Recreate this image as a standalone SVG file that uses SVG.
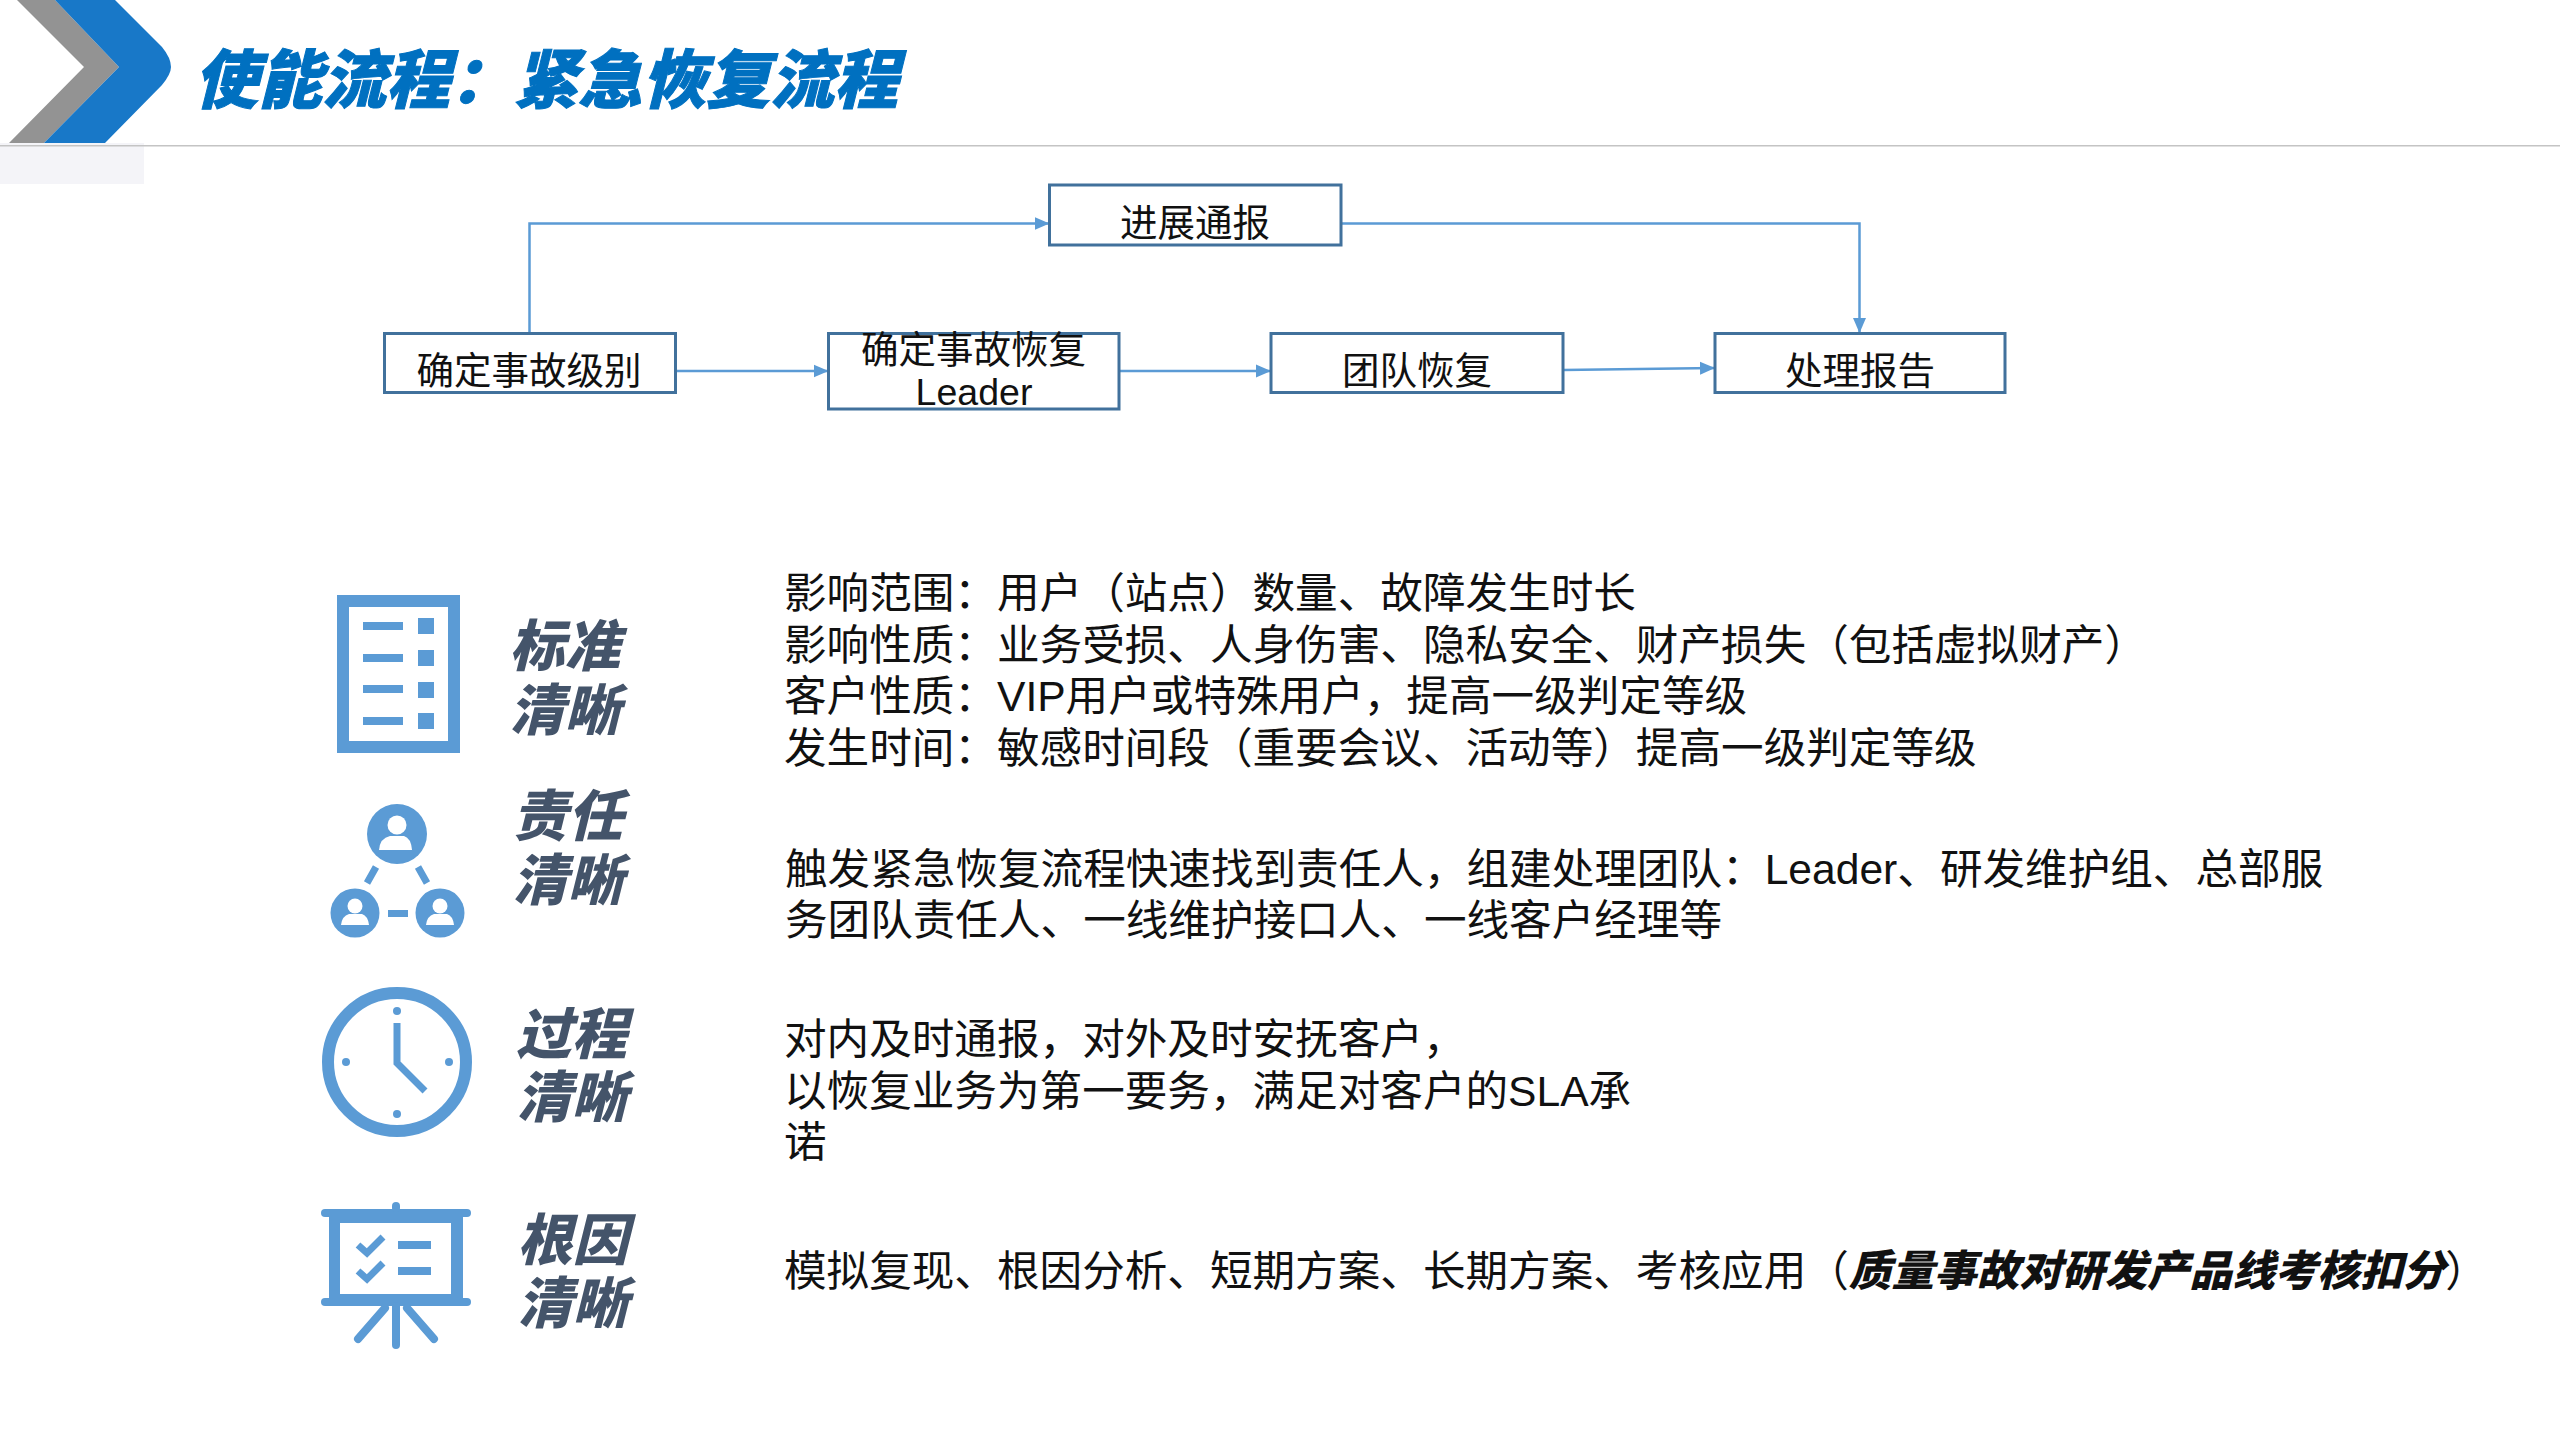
<svg xmlns="http://www.w3.org/2000/svg" width="2560" height="1440" viewBox="0 0 2560 1440">
<style>
text{font-family:"Liberation Sans","Noto Sans CJK SC",sans-serif;fill:#111}
.t{font-size:64px;font-weight:900;font-style:italic;fill:#0070c0;font-family:"Noto Sans CJK SC",sans-serif;stroke:#0070c0;stroke-width:1}
.n{font-size:37.500px;text-anchor:middle}
.b{fill:#fff;stroke:#41719c;stroke-width:3}
.c{fill:none;stroke:#5b9bd5;stroke-width:2.5}
.l{font-size:55.500px;font-weight:900;font-style:italic;fill:#44546a;font-family:"Noto Sans CJK SC",sans-serif}
.p{font-size:42.6px}
.i{fill:#5b9bd5}
.s{fill:none;stroke:#5b9bd5}
</style>
<defs><marker id="a" markerUnits="userSpaceOnUse" markerWidth="16" markerHeight="16" refX="15" refY="8" orient="auto"><path d="M0 1.500L15 8L0 14.500Z" fill="#5b9bd5"/></marker></defs>
<g id="header">
<path d="M17 0H55L119 67L44 143H9L84 67Z" fill="#939393"/>
<path d="M55 0H115L162 47Q171 58 171 67Q171 74 162 85L105 143H44L119 67Z" fill="#1878c8"/>
<rect x="0" y="143" width="144" height="41" fill="#f4f4f8"/>
<rect x="0" y="145" width="2560" height="1.500" fill="#c4c4c4"/>
<text class="t" x="194" y="103">使能流程&#xFF1A;紧急恢复流程</text>
</g>
<g id="connectors">
<path class="c" d="M529.500 333V223.500H1049.500" marker-end="url(#a)"/>
<path class="c" d="M1341 223.500H1859.500V333" marker-end="url(#a)"/>
<path class="c" d="M675 371H828.500" marker-end="url(#a)"/>
<path class="c" d="M1119 371H1271" marker-end="url(#a)"/>
<path class="c" d="M1563 370L1715 368" marker-end="url(#a)"/>
</g>
<g id="node-progress"><rect class="b" x="1049.500" y="185" width="291.500" height="60"/><text class="n" x="1195" y="236">进展通报</text></g>
<g id="node-level"><rect class="b" x="384.500" y="333.500" width="291" height="59"/><text class="n" x="529" y="384">确定事故级别</text></g>
<g id="node-leader"><rect class="b" x="828.500" y="333.500" width="290.500" height="75.500"/><text class="n" x="973.500" y="363">确定事故恢复<tspan x="974" dy="42">Leader</tspan></text></g>
<g id="node-team"><rect class="b" x="1271" y="333.500" width="292" height="59"/><text class="n" x="1417" y="384">团队恢复</text></g>
<g id="node-report"><rect class="b" x="1715" y="333.500" width="290" height="59"/><text class="n" x="1860" y="384">处理报告</text></g>
<g id="row-standard">
<path class="i" fill-rule="evenodd" d="M337 595H460V753H337ZM349 607V741H448V607Z"/>
<path class="i" d="M363 622h40v8h-40zM363 654h40v8h-40zM363 685h40v8h-40zM363 717h40v8h-40zM418 618h16v16h-16zM418 650h16v16h-16zM418 682h16v16h-16zM418 713h16v16h-16z"/>
<text class="l" x="509" y="666">标准<tspan x="509" dy="64">清晰</tspan></text>
<text class="p" x="784" y="608">影响范围&#xFF1A;用户&#xFF08;站点&#xFF09;数量、故障发生时长<tspan x="784" dy="51.500">影响性质&#xFF1A;业务受损、人身伤害、隐私安全、财产损失&#xFF08;包括虚拟财产&#xFF09;</tspan><tspan x="784" dy="51.500">客户性质&#xFF1A;VIP用户或特殊用户&#xFF0C;提高一级判定等级</tspan><tspan x="784" dy="51.500">发生时间&#xFF1A;敏感时间段&#xFF08;重要会议、活动等&#xFF09;提高一级判定等级</tspan></text>
</g>
<g id="row-responsibility">
<circle class="i" cx="397" cy="834" r="30"/><circle class="i" cx="355" cy="913" r="24.500"/><circle class="i" cx="440" cy="913" r="24.500"/>
<circle cx="397" cy="825" r="9.500" fill="#fff"/><path d="M379 850Q380 838 390 836H404Q411 838 412 850Z" fill="#fff"/>
<circle cx="355" cy="906" r="7.500" fill="#fff"/><path d="M341 925Q342 916 349 914H362Q368 916 369 925Z" fill="#fff"/>
<circle cx="440" cy="906" r="7.500" fill="#fff"/><path d="M426 925Q427 916 434 914H447Q453 916 454 925Z" fill="#fff"/>
<path class="s" stroke-width="7" d="M388 913.500H408M376 867L367 883M418 867L427 883"/>
<text class="l" x="512" y="836">责任<tspan x="512" dy="64">清晰</tspan></text>
<text class="p" x="785" y="884">触发紧急恢复流程快速找到责任人&#xFF0C;组建处理团队&#xFF1A;Leader、研发维护组、总部服<tspan x="785" dy="51">务团队责任人、一线维护接口人、一线客户经理等</tspan></text>
</g>
<g id="row-process">
<circle class="s" stroke-width="12" cx="397" cy="1062" r="69"/>
<circle class="i" cx="397" cy="1011" r="4"/><circle class="i" cx="397" cy="1114" r="4"/><circle class="i" cx="346" cy="1062" r="4"/><circle class="i" cx="449" cy="1062" r="4"/>
<path class="s" stroke-width="7" d="M397 1023V1063L425 1091"/>
<text class="l" x="516" y="1054">过程<tspan x="516" dy="63">清晰</tspan></text>
<text class="p" x="784" y="1054">对内及时通报&#xFF0C;对外及时安抚客户&#xFF0C;<tspan x="784" dy="51.500">以恢复业务为第一要务&#xFF0C;满足对客户的SLA承</tspan><tspan x="784" dy="51.500">诺</tspan></text>
</g>
<g id="row-root">
<rect class="i" x="321" y="1209" width="150" height="8" rx="4"/><rect class="i" x="321" y="1298" width="150" height="8" rx="4"/>
<rect class="i" x="392" y="1202" width="8" height="10" rx="4"/>
<path class="i" fill-rule="evenodd" d="M329 1215H463V1300H329ZM340 1223V1294H451V1223Z"/>
<path class="s" stroke-width="8" stroke-linecap="round" d="M396 1306V1345M385 1308L358 1339M407 1308L434 1339"/>
<path class="s" stroke-width="7" d="M358 1245L367 1253L383 1237M358 1271L367 1279L383 1263"/>
<path class="i" d="M398 1241h33v8h-33zM398 1267h33v8h-33z"/>
<text class="l" x="517" y="1260">根因<tspan x="517" dy="63">清晰</tspan></text>
<text class="p" x="784" y="1286">模拟复现、根因分析、短期方案、长期方案、考核应用&#xFF08;<tspan font-weight="900" font-style="italic">质量事故对研发产品线考核扣分</tspan>&#xFF09;</text>
</g>
</svg>
